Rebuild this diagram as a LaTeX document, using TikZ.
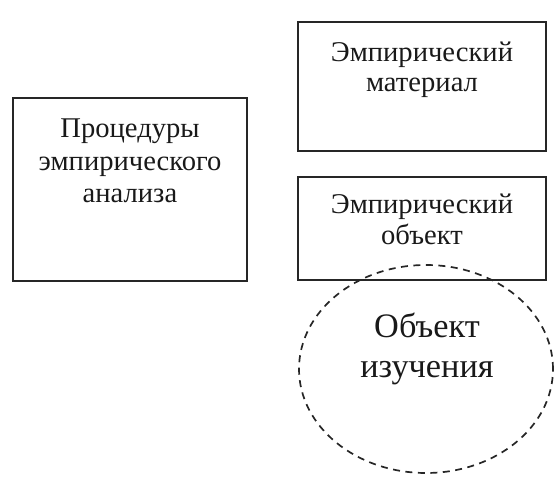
\documentclass[tikz,border=0pt]{standalone}
\usepackage{fontspec}
\setmainfont{Liberation Serif}
\usetikzlibrary{shapes.geometric}
\tikzset{
  box/.style={draw=black!85, line width=1.4pt, rectangle, inner sep=0pt},
  oval/.style={draw=black!85, line width=1.7pt, dash pattern=on 7pt off 5.5pt, ellipse, inner sep=0pt},
  lbl/.style={align=center, inner sep=0pt, anchor=base, font=\fontsize{28.6}{31.5}\selectfont, text=black!90},
  biglbl/.style={align=center, inner sep=0pt, anchor=base, font=\fontsize{34.3}{40}\selectfont, text=black!90}
}
\begin{document}
\begin{tikzpicture}[x=1pt,y=-1pt]
\useasboundingbox (0,0) rectangle (557,481);
\node[box, minimum width=234pt, minimum height=183pt] (proc) at (130,189.5) {};
\node[box, minimum width=248pt, minimum height=129pt] (mat) at (422,86.5) {};
\node[box, minimum width=248pt, minimum height=103pt] (obj) at (422,228.5) {};
\node[oval, minimum width=254pt, minimum height=208pt] (study) at (426,369) {};
\node[lbl, font=\fontsize{28.6}{32.5}\selectfont] (proct) at (130,203) {Процедуры\\эмпирического\\анализа};
\node[lbl, font=\fontsize{28.6}{30.5}\selectfont] (matt) at (422,92) {Эмпирический\\материал};
\node[lbl, font=\fontsize{28.6}{32}\selectfont] (objt) at (422,245) {Эмпирический\\объект};
\node[biglbl] (studyt) at (427,377) {Объект\\изучения};
\end{tikzpicture}
\end{document}
